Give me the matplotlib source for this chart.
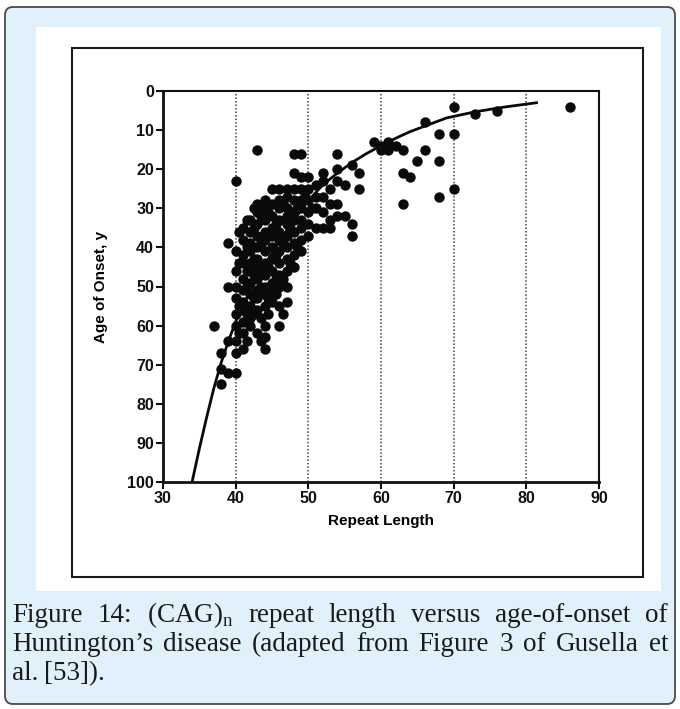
import matplotlib.pyplot as plt
from matplotlib.patches import FancyBboxPatch, Rectangle

plt.rcParams['mathtext.fontset'] = 'custom'
plt.rcParams['mathtext.rm'] = 'Liberation Serif'

# repeat length -> ages of onset
onset = {
    37: [60],
    38: [67, 71, 75],
    39: [39, 50, 64, 72],
    40: [23, 41, 46, 50, 53, 57, 60, 64, 67, 72],
    40.5: [36, 44, 55, 62],
    41: [35, 38, 42, 44, 48, 51, 54, 56, 59, 62, 66],
    41.5: [33, 40, 46, 50, 57, 64],
    42: [33, 36, 39, 41, 44, 46, 49, 52, 55, 58, 60],
    42.5: [30, 35, 43, 47, 53, 57],
    43: [15, 29, 31, 34, 37, 40, 43, 45, 48, 51, 53, 56, 62],
    43.5: [32, 39, 46, 50, 58, 64],
    44: [28, 30, 33, 36, 38, 41, 44, 47, 50, 52, 55, 60, 63, 66],
    44.5: [31, 37, 45, 53, 57],
    45: [25, 29, 32, 35, 37, 40, 43, 46, 49, 51, 54],
    45.5: [34, 42, 48, 52],
    46: [25, 28, 30, 33, 36, 38, 41, 44, 47, 50, 55, 60],
    46.5: [29, 39, 48, 57],
    47: [25, 27, 30, 32, 34, 37, 40, 43, 46, 50, 54],
    47.5: [35, 44],
    48: [16, 21, 25, 28, 31, 33, 36, 39, 42, 45],
    48.5: [30, 40],
    49: [16, 22, 25, 28, 30, 33, 35, 38, 41],
    49.5: [27],
    50: [22, 25, 28, 31, 34, 37],
    50.5: [30],
    51: [24, 27, 30, 35],
    52: [21, 23, 27, 31, 35],
    53: [25, 29, 33, 35],
    54: [16, 20, 23, 29, 32],
    55: [24, 32],
    56: [19, 34, 37],
    57: [21, 25],
    59: [13],
    60: [14, 15],
    61: [13, 15],
    62: [14],
    63: [15, 21, 29],
    64: [22],
    65: [18],
    66: [8, 15],
    68: [11, 18, 27],
    70: [4, 11, 25],
    73: [6],
    76: [5],
    86: [4],
}
repeat_len = [k for k, v in onset.items() for _ in v]
age = [a for v in onset.values() for a in v]

# fitted curve, read point by point
curve_x = [34, 35, 36, 37, 38, 39, 40, 42, 44, 46, 48, 50, 52, 54, 56, 58, 60, 62, 64, 66, 69, 73, 77, 81.4]
curve_y = [100, 91.5, 83.5, 76, 69.5, 64, 59, 51, 44.5, 38.5, 33, 28, 24, 21, 18.3, 16, 14, 12.1, 10.4, 9.0, 6.9, 5.3, 4.1, 3.0]

x_ticks = [30, 40, 50, 60, 70, 80, 90]
y_ticks = [0, 10, 20, 30, 40, 50, 60, 70, 80, 90, 100]

caption = [
    "Figure 14: (CAG)$_\\mathrm{n}$ repeat length versus age-of-onset of",
    "Huntington\u2019s disease (adapted from Figure 3 of Gusella et",
    "al. [53]).",
]

W, H = 680, 709
fig = plt.figure(figsize=(W / 100, H / 100), dpi=100)

# page background, pixel coordinates
bg = fig.add_axes([0, 0, 1, 1])
bg.set_xlim(0, W)
bg.set_ylim(H, 0)
bg.axis('off')
bg.add_patch(FancyBboxPatch((5, 7), 670, 697, boxstyle='round,pad=0,rounding_size=8',
                            fc='#e0f1fb', ec='#4a4a4a', lw=1.3))
bg.add_patch(Rectangle((36, 27), 625, 564, fc='white', ec='none'))
bg.add_patch(Rectangle((72, 48), 571, 529, fill=False, ec='#1a1a1a', lw=1.5))

# caption, justified like the source
cap_font = dict(family=['Liberation Serif', 'DejaVu Serif'], size=19.5, color='#1a1a1a')
renderer = fig.canvas.get_renderer()
baselines = [622, 651, 680]
for i, line in enumerate(caption):
    words = line.split(' ')
    texts = [bg.text(0, baselines[i], w, va='baseline', ha='left', **cap_font) for w in words]
    widths = [t.get_window_extent(renderer).width for t in texts]
    if i < len(caption) - 1:
        gap = (668 - 12 - sum(widths)) / (len(words) - 1)
    else:
        gap = 6
    x = 12
    for t, w in zip(texts, widths):
        t.set_x(x)
        x += w + gap

# the scanned chart
chart_font = ['Liberation Sans', 'DejaVu Sans']
ax = fig.add_axes([163 / W, 1 - 482 / H, 436 / W, 391 / H])
ax.set_xlim(30, 90)
ax.set_ylim(100, 0)
for x in x_ticks[1:-1]:
    ax.axvline(x, color='#444444', lw=1.1, ls=(0, (1, 1.3)), zorder=1)
ax.plot(curve_x, curve_y, color='#0a0a0a', lw=2.0, zorder=2)
ax.scatter(repeat_len, age, s=56, color='#0a0a0a', linewidths=0, zorder=3)

ax.set_xticks(x_ticks)
ax.set_yticks(y_ticks)
ax.tick_params(direction='out', length=5, width=1.5, pad=1.5, labelsize=11.5, colors='#111111')
for lab in ax.get_xticklabels() + ax.get_yticklabels():
    lab.set_family(chart_font)
    lab.set_fontweight('bold')
for side in ['left', 'bottom']:
    ax.spines[side].set_linewidth(2.0)
for side in ['top', 'right']:
    ax.spines[side].set_linewidth(1.5)
for s in ax.spines.values():
    s.set_color('#111111')

ax.set_xlabel('Repeat Length', family=chart_font, fontweight='bold', fontsize=11, labelpad=6)
ax.set_ylabel('Age of Onset, y', family=chart_font, fontweight='bold', fontsize=11, labelpad=14)

fig.savefig('out.png', dpi=100)
